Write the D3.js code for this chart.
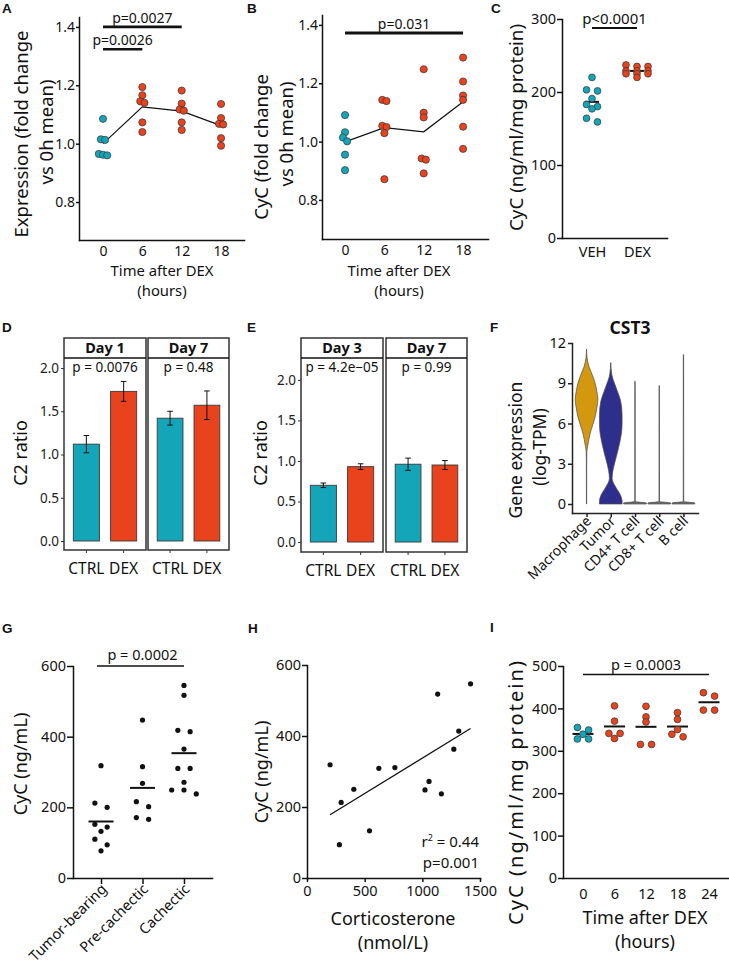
<!DOCTYPE html>
<html><head><meta charset="utf-8">
<script src="https://cdn.jsdelivr.net/npm/d3@7"></script>
<style>body{margin:0;background:#fff}</style>
</head><body>
<script>
// ---------------- DATA ----------------
const hoursAB = [0, 6, 12, 18];
const aYTicks = [0.8, 1.0, 1.2, 1.4];
const aExpression = [
  [1.085, 1.015, 1.013, 0.965, 0.962, 0.960],
  [1.194, 1.166, 1.145, 1.140, 1.073, 1.040],
  [1.182, 1.137, 1.117, 1.113, 1.073, 1.047],
  [1.136, 1.088, 1.068, 1.066, 1.019, 0.993]
];
const aSig = [[0, 12, 1.4, "p=0.0027"], [0, 6, 1.3236, "p=0.0026"]];
const bCyC = [
  [1.091, 1.032, 1.014, 1.001, 0.955, 0.902],
  [1.143, 1.139, 1.054, 1.050, 1.029, 0.871],
  [1.248, 1.099, 1.083, 0.942, 0.938, 0.891],
  [1.288, 1.206, 1.158, 1.143, 1.051, 0.975]
];
const bSig = [[0, 18, 1.3726, "p=0.031"]];

const cGroups = ["VEH", "DEX"];
const cTicks = [0, 100, 200, 300];
const cVEH = [220, 203, 201.5, 191, 183, 180, 177, 164, 159];
const cDEX = [237, 235, 235, 229, 229, 229, 225, 225, 225, 220];
const cSig = [["VEH", "DEX", 287.7, "p<0.0001"]];

const barGroups = ["CTRL", "DEX"];
const c2Ticks = [0, 0.5, 1.0, 1.5, 2.0];
const dDays = ["Day 1", "Day 7"];
const dCTRL = [1.12, 1.42];
const dDEX = [1.73, 1.57];
const dCTRLerr = [0.10, 0.08];
const dDEXerr = [0.115, 0.165];
const dP = ["p = 0.0076", "p = 0.48"];
const eDays = ["Day 3", "Day 7"];
const eCTRL = [0.70, 0.96];
const eDEX = [0.93, 0.95];
const eCTRLerr = [0.028, 0.075];
const eDEXerr = [0.035, 0.055];
const eP = ["p = 4.2e\u221205", "p = 0.99"];

const fCells = ["Macrophage", "Tumor", "CD4+ T cell", "CD8+ T cell", "B cell"];
const fTicks = [0, 3, 6, 9, 12];
// violin outlines: [log-TPM, relative half width]
const fMacrophage = [[0,0.012],[3.2,0.015],[3.9,0.03],[4.4,0.12],[5.2,0.3],[5.9,0.55],[6.5,0.76],[7.15,0.91],[7.8,1],[8.4,0.91],[9.0,0.76],[9.6,0.52],[10.25,0.21],[10.9,0.05],[11.55,0]];
const fTumor = [[0,1],[0.2,1],[0.7,0.84],[1.2,0.48],[1.9,0.12],[2.45,0.18],[3.2,0.39],[4.2,0.69],[5.2,0.93],[5.9,1],[6.65,1],[7.65,0.88],[8.65,0.48],[9.65,0.09],[10.55,0]];
const fCD4 = [[0,1],[0.08,1],[0.18,0.02],[9.14,0.015],[9.15,0]];
const fCD8 = [[0,1],[0.08,1],[0.18,0.02],[8.82,0.015],[8.83,0]];
const fB = [[0,1],[0.08,1],[0.18,0.02],[11.13,0.015],[11.14,0]];
const fProfiles = [fMacrophage, fTumor, fCD4, fCD8, fB];
const fColors = ["#d4980f", "#2e2f8c", "#6d6d6d", "#6d6d6d", "#6d6d6d"];

const gGroups = ["Tumor-bearing", "Pre-cachectic", "Cachectic"];
const gTicks = [0, 200, 400, 600];
const gTumor = [318, 212, 200, 152, 144, 132, 110, 94, 77];
const gPre = [447, 315, 268, 216, 202, 171, 166];
const gCach = [545, 517, 418, 414, 365, 310, 310, 271, 249, 249, 238];
const gSig = [["Tumor-bearing", "Cachectic", 600, "p = 0.0002"]];

const hXTicks = [0, 500, 1000, 1500];
const hCort = [200, 296, 281, 406, 542, 623, 762, 1023, 1058, 1133, 1165, 1273, 1316, 1418];
const hCyC  = [319, 213, 94, 250, 133, 309, 311, 248, 272, 518, 237, 363, 414, 547];
const hStats = ["0.44", "p=0.001"];

const iHours = [0, 6, 12, 18, 24];
const iTicks = [0, 100, 200, 300, 400, 500];
const iCyC = [
  [355, 349, 339, 328, 328],
  [406, 370, 341, 341, 329],
  [405, 380, 368, 315, 315],
  [390, 374, 350, 339, 333],
  [437, 429, 396, 396]
];
const iSig = [[0, 24, 480, "p = 0.0003"]];

// ---------------- STYLE ----------------
const FONT = "'Noto Sans', 'DejaVu Sans', sans-serif";
const LETTER = "'Liberation Sans', Arial, sans-serif";
const TEAL = "#14a6b8", RED = "#e8431c", INK = "#111";

const svg = d3.select("body").append("svg")
  .attr("width", 729).attr("height", 967)
  .style("font-family", FONT);

function axis(ax, tr, fs, opt = {}) {
  const a = svg.append("g").attr("transform", tr).call(ax);
  a.attr("font-family", FONT).attr("font-size", fs);
  a.select(".domain").attr("stroke", opt.color || INK).attr("stroke-width", opt.sw || 1.5)
    .attr("stroke-linecap", "square");
  a.selectAll(".tick line").attr("stroke", opt.color || INK).attr("stroke-width", opt.tw || 1.5);
  a.selectAll(".tick text").attr("fill", opt.tc || INK);
  if (opt.noDomain) a.select(".domain").remove();
  return a;
}
function text(x, y, s, fs, opt = {}) {
  const t = svg.append("text").attr("x", x).attr("y", y).attr("font-size", fs)
    .attr("text-anchor", opt.anchor || "middle").attr("fill", opt.fill || INK).text(s);
  if (opt.bold) t.attr("font-weight", "bold");
  if (opt.family) t.attr("font-family", opt.family);
  return t;
}
function vtext(x, y, s, fs, opt = {}) {
  const t = svg.append("text").attr("transform", `translate(${x},${y}) rotate(-90)`)
    .attr("text-anchor", "middle").attr("font-size", fs).attr("fill", INK).text(s);
  if (opt.len) t.attr("textLength", opt.len).attr("lengthAdjust", "spacing");
  return t;
}
function hline(x0, x1, y, sw) {
  svg.append("line").attr("x1", x0).attr("x2", x1).attr("y1", y).attr("y2", y)
    .attr("stroke", INK).attr("stroke-width", sw);
}
// group points with nearly equal values side by side
function dodge(vals, ys, thr, sp, maxN, pairMul) {
  const idx = vals.map((v, i) => i).sort((a, b) => vals[b] - vals[a]);
  const off = new Array(vals.length).fill(0);
  let g = [];
  const flush = () => {
    const n = g.length;
    g.forEach((k, j) => off[k] = (j - (n - 1) / 2) * sp * (n === 2 ? pairMul : 1));
    g = [];
  };
  idx.forEach(k => {
    if (g.length && (Math.abs(ys(vals[k]) - ys(vals[g[0]])) > thr || g.length >= maxN)) flush();
    g.push(k);
  });
  flush();
  return off;
}
function dots(cx, vals, ys, off, r, fill, stroke) {
  vals.forEach((v, j) => {
    svg.append("circle").attr("cx", cx + off[j]).attr("cy", ys(v)).attr("r", r)
      .attr("fill", fill).attr("stroke", stroke || "none").attr("stroke-width", stroke ? 0.7 : 0);
  });
}

// ---------------- PANEL LETTERS ----------------
[["A", 2, 13], ["B", 247, 13], ["C", 491, 13], ["D", 2, 332], ["E", 247, 332], ["F", 490, 332],
 ["G", 2, 633], ["H", 248, 633], ["I", 490, 632]].forEach(([l, x, y]) =>
  text(x, y, l, 13.5, {anchor: "start", bold: true, family: LETTER}));

// ---------------- A & B ----------------
function timeCourse(data, sig, xs, ys, titleX, y1, y2) {
  axis(d3.axisLeft(ys).tickValues(aYTicks).tickFormat(d3.format(".1f")).tickSize(3).tickSizeOuter(0).tickPadding(1),
    `translate(${xs.range()[0]},0)`, 14);
  axis(d3.axisBottom(xs).tickValues(hoursAB).tickSize(0).tickSizeOuter(0).tickPadding(6),
    `translate(0,${ys.range()[0]})`, 14);
  svg.append("path").attr("fill", "none").attr("stroke", INK).attr("stroke-width", 1.2)
    .attr("d", d3.line().x((d, i) => xs(hoursAB[i])).y(d => ys(d3.mean(d)))(data));
  data.forEach((vals, i) => {
    const off = dodge(vals, ys, 4, 4.2, 3, 1);
    dots(xs(hoursAB[i]), vals, ys, off, 3.6, i === 0 ? TEAL : RED, "#333");
  });
  sig.forEach(([a, b, v, l], k) => {
    hline(xs(a), xs(b), ys(v), k === 0 && sig.length === 1 ? 3 : 2.6);
    text((xs(a) + xs(b)) / 2, ys(v) - 4, l, 14);
  });
  text(titleX, 276, "Time after DEX", 14.8);
  text(titleX, 296, "(hours)", 14.8);
  vtext(y1[0], y1[1], y1[2], 18.5);
  vtext(y2[0], y2[1], y2[2], 18.5);
}
const xA = d3.scaleLinear().domain([-3.66, 21.5]).range([79, 244]);
const yA = d3.scaleLinear().domain([0.67, 1.434]).range([240, 17]);
timeCourse(aExpression, aSig, xA, yA, 162, [28, 134, "Expression (fold change"], [53, 132, "vs 0h mean)"]);
const xB = d3.scaleLinear().domain([-3.51, 21.8]).range([322, 488]);
const yB = d3.scaleLinear().domain([0.666, 1.434]).range([239, 15]);
timeCourse(bCyC, bSig, xB, yB, 399, [268, 147, "CyC (fold change"], [293, 134, "vs 0h mean)"]);

// ---------------- C ----------------
{
  const xs = d3.scalePoint().domain(cGroups).range([562, 667]).padding(0.667);
  const ys = d3.scaleLinear().domain([0, 300]).range([238, 19]);
  axis(d3.axisLeft(ys).tickValues(cTicks).tickSize(5).tickSizeOuter(0).tickPadding(1), "translate(562,0)", 14.5);
  axis(d3.axisBottom(xs).tickSize(0).tickSizeOuter(0).tickPadding(9), "translate(0,238)", 14.5);
  [cVEH, cDEX].forEach((vals, i) => {
    const cx = xs(cGroups[i]);
    hline(cx - 7, cx + 7, ys(d3.mean(vals)), 2);
    dots(cx, vals, ys, dodge(vals, ys, 4, 11, 3, 1), 3.4, i === 0 ? TEAL : RED, "#333");
  });
  cSig.forEach(([a, b, v, l]) => {
    hline(xs(a), xs(b), ys(v), 2);
    text((xs(a) + xs(b)) / 2, ys(v) - 4, l, 15);
  });
  vtext(523, 127.5, "CyC (ng/ml/mg protein)", 18.8);
}

// ---------------- D & E ----------------
function facet(days, ctrl, dex, ctrlErr, dexErr, pl, panels, ys, titleX) {
  const bottom = ys.range()[0], stripTop = 338, stripBot = 358;
  panels.forEach(([x0, x1], i) => {
    const band = d3.scaleBand().domain(barGroups).range([x0, x1]).paddingInner(0.3).paddingOuter(0.25);
    svg.append("rect").attr("x", x0).attr("y", stripTop).attr("width", x1 - x0).attr("height", bottom - stripTop)
      .attr("fill", "#fff").attr("stroke", "#333").attr("stroke-width", 1.5);
    hline(x0, x1, stripBot, 1.5);
    text((x0 + x1) / 2, 353, days[i], 14.5, {bold: true});
    text((x0 + x1) / 2, 372, pl[i], 13.5);
    [[ctrl[i], ctrlErr[i], TEAL], [dex[i], dexErr[i], RED]].forEach(([v, e, col], k) => {
      const bx = band(barGroups[k]), cx = bx + band.bandwidth() / 2;
      svg.append("rect").attr("x", bx).attr("y", ys(v)).attr("width", band.bandwidth())
        .attr("height", ys(0) - ys(v)).attr("fill", col).attr("stroke", "#3a3a3a").attr("stroke-width", 0.9);
      svg.append("line").attr("x1", cx).attr("x2", cx).attr("y1", ys(v - e)).attr("y2", ys(v + e))
        .attr("stroke", INK).attr("stroke-width", 1);
      [v - e, v + e].forEach(t => svg.append("line").attr("x1", cx - 2.8).attr("x2", cx + 2.8)
        .attr("y1", ys(t)).attr("y2", ys(t)).attr("stroke", INK).attr("stroke-width", 1));
    });
    axis(d3.axisBottom(band).tickSize(3).tickSizeOuter(0).tickPadding(10), `translate(0,${bottom})`, 15.5,
      {noDomain: true, tw: 1, color: "#333"});
  });
  axis(d3.axisLeft(ys).tickValues(c2Ticks).tickFormat(d3.format(".1f")).tickSize(3).tickSizeOuter(0).tickPadding(2),
    `translate(${panels[0][0]},0)`, 13.5, {noDomain: true, tw: 1, color: "#333", tc: "#222"});
  vtext(titleX, 453, "C2 ratio", 18);
}
facet(dDays, dCTRL, dDEX, dCTRLerr, dDEXerr, dP, [[64, 146], [148, 229]],
  d3.scaleLinear().domain([-0.104, 2.116]).range([550, 358]), 27);
facet(eDays, eCTRL, eDEX, eCTRLerr, eDEXerr, eP, [[301, 383], [386, 467]],
  d3.scaleLinear().domain([-0.123, 2.27]).range([552, 358]), 267);

// ---------------- F ----------------
{
  const xs = d3.scalePoint().domain(fCells).range([572, 698]).padding(0.6);
  const ys = d3.scaleLinear().domain([-0.67, 12]).range([513, 343]);
  const hw = 11.3;
  fCells.forEach((c, i) => {
    const cx = xs(c);
    const area = d3.area().curve(d3.curveMonotoneY)
      .y(d => ys(d[0])).x0(d => cx - hw * d[1]).x1(d => cx + hw * d[1]);
    svg.append("path").attr("d", area(fProfiles[i])).attr("fill", fColors[i])
      .attr("stroke", "#4a4a4a").attr("stroke-width", 0.7);
  });
  axis(d3.axisLeft(ys).tickValues(fTicks).tickSize(4).tickSizeOuter(0).tickPadding(2), "translate(572,0)", 14.5,
    {color: "#222"});
  const ax = axis(d3.axisBottom(xs).tickSize(4).tickSizeOuter(0).tickPadding(2), "translate(0,513)", 14,
    {color: "#222"});
  ax.selectAll(".tick text").attr("text-anchor", "end").attr("dy", null)
    .attr("transform", "translate(5,9) rotate(-45)").attr("y", 0).attr("x", 0);
  text(630, 334, "CST3", 17.5, {bold: true});
  vtext(522, 450, "Gene expression", 17.5);
  vtext(546, 447, "(log-TPM)", 17.5);
}

// ---------------- G ----------------
{
  const xs = d3.scalePoint().domain(gGroups).range([73, 212]).padding(0.675);
  const ys = d3.scaleLinear().domain([0, 600]).range([878, 666]);
  axis(d3.axisLeft(ys).tickValues(gTicks).tickSize(6).tickSizeOuter(0).tickPadding(1), "translate(73,0)", 14.5);
  const ax = axis(d3.axisBottom(xs).tickSize(6).tickSizeOuter(0).tickPadding(2), "translate(0,878)", 14.5);
  ax.selectAll(".tick text").attr("text-anchor", "end").attr("dy", null)
    .attr("transform", "translate(6,12) rotate(-45)").attr("y", 0).attr("x", 0);
  [gTumor, gPre, gCach].forEach((vals, i) => {
    const cx = xs(gGroups[i]);
    dots(cx, vals, ys, dodge(vals, ys, 6, 12.3, 3, 1), 2.6, INK);
    hline(cx - 12.5, cx + 12.5, ys(d3.mean(vals)), 2);
  });
  gSig.forEach(([a, b, v, l]) => {
    hline(xs(a) - 4, xs(b), ys(v), 1.5);
    text((xs(a) + xs(b)) / 2, ys(v) - 6, l, 14.5);
  });
  vtext(27.3, 764, "CyC (ng/mL)", 18);
}

// ---------------- H ----------------
{
  const xs = d3.scaleLinear().domain([0, 1500]).range([307, 480]);
  const ys = d3.scaleLinear().domain([0, 600]).range([878, 665]);
  axis(d3.axisLeft(ys).tickValues(gTicks).tickSize(5).tickSizeOuter(0).tickPadding(1), "translate(307,0)", 14.5);
  axis(d3.axisBottom(xs).tickValues(hXTicks).tickFormat(d3.format("d")).tickSize(4).tickSizeOuter(0).tickPadding(4),
    "translate(0,878)", 14.5);
  const mx = d3.mean(hCort), my = d3.mean(hCyC);
  const sxy = d3.sum(hCort, (x, i) => (x - mx) * (hCyC[i] - my));
  const sxx = d3.sum(hCort, x => (x - mx) * (x - mx));
  const slope = sxy / sxx, icpt = my - slope * mx;
  const ext = d3.extent(hCort);
  svg.append("line").attr("x1", xs(ext[0])).attr("x2", xs(ext[1]))
    .attr("y1", ys(icpt + slope * ext[0])).attr("y2", ys(icpt + slope * ext[1]))
    .attr("stroke", INK).attr("stroke-width", 1.3);
  hCort.forEach((x, i) => svg.append("circle").attr("cx", xs(x)).attr("cy", ys(hCyC[i])).attr("r", 2.6).attr("fill", INK));
  const t = text(479, 847, "", 15, {anchor: "end"});
  t.append("tspan").text("r");
  t.append("tspan").text("2").attr("font-size", 9).attr("dy", -6);
  t.append("tspan").text(" = " + hStats[0]).attr("dy", 6);
  text(479, 868, hStats[1], 15, {anchor: "end"});
  text(393, 925, "Corticosterone", 18);
  text(393, 949, "(nmol/L)", 18);
  vtext(268, 772, "CyC (ng/mL)", 18);
}

// ---------------- I ----------------
{
  const xs = d3.scaleLinear().domain([-3.81, 27.81]).range([563, 729]);
  const ys = d3.scaleLinear().domain([0, 500]).range([878, 666]);
  axis(d3.axisLeft(ys).tickValues(iTicks).tickSize(5).tickSizeOuter(0).tickPadding(1), "translate(563,0)", 14.5);
  axis(d3.axisBottom(xs).tickValues(iHours).tickSize(0).tickSizeOuter(0).tickPadding(11), "translate(0,878)", 14.5);
  iCyC.forEach((vals, i) => {
    const cx = xs(iHours[i]);
    hline(cx - 10.5, cx + 10.5, ys(d3.mean(vals)), 2);
    dots(cx, vals, ys, dodge(vals, ys, 3.6, 8, 3, 1.4), 3.4, i === 0 ? TEAL : RED, "#333");
  });
  iSig.forEach(([a, b, v, l]) => {
    hline(xs(a), xs(b), ys(v), 1.5);
    text((xs(a) + xs(b)) / 2, ys(v) - 4, l, 14.5);
  });
  text(645, 924, "Time after DEX", 18);
  text(645, 948, "(hours)", 18);
  vtext(522.7, 793, "CyC (ng/ml/mg protein)", 20, {len: 264});
}
</script>
</body></html>
